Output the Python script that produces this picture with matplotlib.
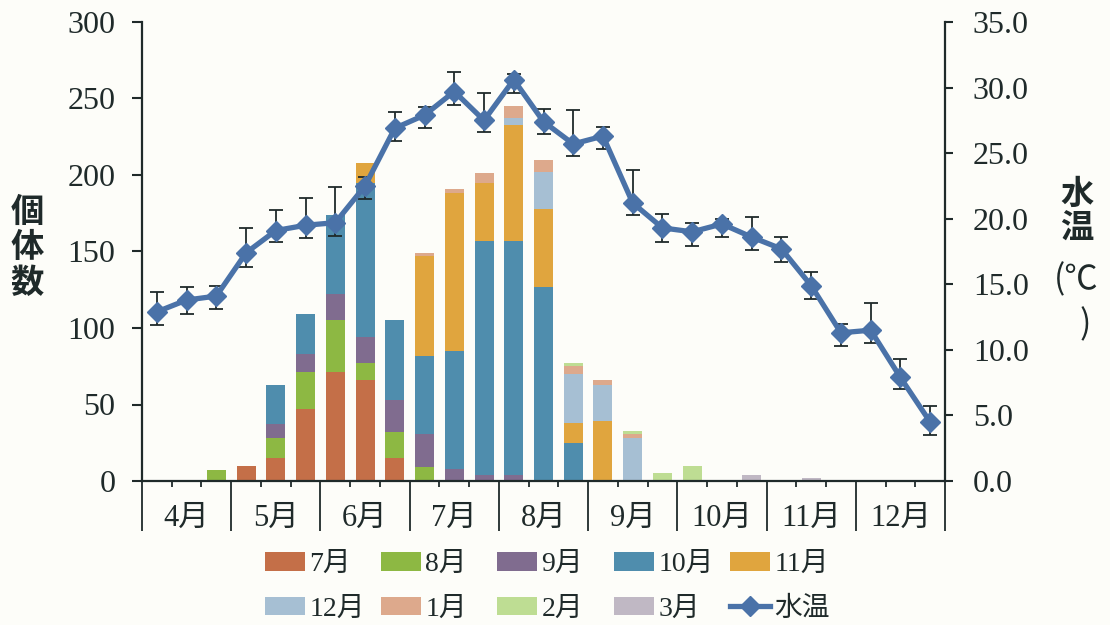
import matplotlib.pyplot as plt
import numpy as np
from matplotlib.patches import Patch
from matplotlib.lines import Line2D

plt.rcParams['font.family'] = ['Liberation Serif', 'Noto Sans CJK JP']

# sampling dates: early / mid / late of each month, Apr - Dec
months = ['4月', '5月', '6月', '7月', '8月', '9月', '10月', '11月', '12月']
n = 27

# counts by cohort (stacked bars, bottom to top)
cohorts = ['7月', '8月', '9月', '10月', '11月', '12月', '1月', '2月', '3月']
c_jul = [0, 0, 0, 10, 15, 47, 71, 66, 15, 0, 0, 0, 0, 0, 0, 0, 0, 0, 0, 0, 0, 0, 0, 0, 0, 0, 0]
c_aug = [0, 0, 7, 0, 13, 24, 34, 11, 17, 9, 0, 0, 0, 0, 0, 0, 0, 0, 0, 0, 0, 0, 0, 0, 0, 0, 0]
c_sep = [0, 0, 0, 0, 9, 12, 17, 17, 21, 22, 8, 4, 4, 0, 0, 0, 0, 0, 0, 0, 0, 0, 0, 0, 0, 0, 0]
c_oct = [0, 0, 0, 0, 26, 26, 52, 101, 52, 51, 77, 153, 153, 127, 25, 0, 0, 0, 0, 0, 0, 0, 0, 0, 0, 0, 0]
c_nov = [0, 0, 0, 0, 0, 0, 0, 13, 0, 65, 103, 38, 76, 51, 13, 39, 0, 0, 0, 0, 0, 0, 0, 0, 0, 0, 0]
c_dec = [0, 0, 0, 0, 0, 0, 0, 0, 0, 0, 0, 0, 4, 24, 32, 24, 28, 0, 0, 0, 0, 0, 0, 0, 0, 0, 0]
c_jan = [0, 0, 0, 0, 0, 0, 0, 0, 0, 2, 3, 6, 8, 8, 5, 3, 3, 0, 0, 0, 0, 0, 0, 0, 0, 0, 0]
c_feb = [0, 0, 0, 0, 0, 0, 0, 0, 0, 0, 0, 0, 0, 0, 2, 0, 2, 5, 10, 0, 0, 0, 0, 0, 0, 0, 0]
c_mar = [0, 0, 0, 0, 0, 0, 0, 0, 0, 0, 0, 0, 0, 0, 0, 0, 0, 0, 0, 0, 4, 0, 2, 0, 0, 0, 0]
counts = [c_jul, c_aug, c_sep, c_oct, c_nov, c_dec, c_jan, c_feb, c_mar]
colors = ['#C46F48', '#8DB843', '#806C8F', '#4F8DAD', '#E0A53E',
          '#A6BFD3', '#DDA98C', '#BEDD93', '#C0B8C4']

# water temperature and error bars
temp = [12.9, 13.8, 14.1, 17.4, 19.1, 19.5, 19.7, 22.5, 26.9, 27.9, 29.7, 27.5, 30.6, 27.4,
        25.7, 26.3, 21.2, 19.3, 19.0, 19.6, 18.6, 17.7, 14.9, 11.3, 11.5, 7.9, 4.5]
err_lo = [1.0, 1.1, 0.95, 1.1, 0.9, 1.0, 1.05, 1.0, 0.95, 0.95, 1.0, 0.9, 1.0, 0.95,
          0.9, 1.0, 0.9, 1.05, 1.05, 1.0, 1.0, 1.0, 1.0, 1.0, 1.0, 0.9, 1.0]
err_hi = [1.5, 1.0, 0.75, 1.9, 1.6, 2.1, 2.75, 0.7, 1.25, 0.65, 1.5, 2.1, 0.4, 0.95,
          2.6, 0.7, 2.5, 1.05, 0.65, 0.4, 1.5, 0.9, 1.0, 0.7, 2.1, 1.4, 1.25]

ink = '#1f2a2a'
fig = plt.figure(figsize=(11.1, 6.25), dpi=100, facecolor='#FDFDF9')
ax = fig.add_axes([142 / 1110, 1 - 481 / 625, 803 / 1110, 459 / 625])
ax.set_facecolor('none')

x = np.arange(n)
bottom = np.zeros(n)
for name, vals, col in zip(cohorts, counts, colors):
    ax.bar(x, vals, width=0.64, bottom=bottom, color=col, label=name, zorder=2)
    bottom += np.array(vals)

ax.set_xlim(-0.5, n - 0.5)
ax.set_ylim(0, 300)
ax.set_yticks(range(0, 301, 50))
for s in ['top', 'right']:
    ax.spines[s].set_visible(False)
for s in ['left', 'bottom']:
    ax.spines[s].set_color(ink)
    ax.spines[s].set_linewidth(1.6)
ax.tick_params(axis='y', length=7, width=1.5, pad=12, labelsize=23, colors=ink)

# month boundaries as long ticks, each sampling slot as short ticks
ax.set_xticks(np.arange(-0.5, n, 3))
ax.set_xticks(np.arange(-0.5, n, 1), minor=True)
ax.tick_params(axis='x', which='major', length=36, width=1.3, color=ink, labelbottom=False)
ax.tick_params(axis='x', which='minor', length=4, width=1.3, color=ink)
for i, m in enumerate(months):
    ax.text(3 * i + 1, -0.082, m, transform=ax.get_xaxis_transform(),
            ha='center', va='center', fontsize=22, color=ink)

ax2 = ax.twinx()
ax2.set_ylim(0, 35)
ax2.set_yticks(np.arange(0, 35.1, 5))
ax2.set_yticklabels([f'{v:.1f}' for v in np.arange(0, 35.1, 5)])
for s in ['top', 'left', 'bottom']:
    ax2.spines[s].set_visible(False)
ax2.spines['right'].set_color(ink)
ax2.spines['right'].set_linewidth(1.6)
ax2.tick_params(axis='y', length=6, width=1.5, pad=14, labelsize=23, colors=ink)

line_col = '#4A72A8'
ax2.errorbar(x, temp, yerr=[err_lo, err_hi], fmt='none', ecolor=ink,
             elinewidth=1.3, capsize=5, capthick=1.3, zorder=2)
ax2.plot(x, temp, color=line_col, lw=3.8, marker='D', ms=10, zorder=3)

# axis titles, written vertically
fig.text(27 / 1110, 1 - 248 / 625, '個\n体\n数', ha='center', va='center',
         fontsize=24, fontweight='bold', family='Noto Sans CJK JP', color=ink,
         linespacing=1.1)
fig.text(1077 / 1110, 1 - 212 / 625, '水\n温', ha='center', va='center',
         fontsize=24, fontweight='bold', family='Noto Sans CJK JP', color=ink,
         linespacing=1.05)
fig.text(1076 / 1110, 1 - 280 / 625, '(℃', ha='center', va='center',
         fontsize=24, family='Noto Sans CJK JP', color=ink)
fig.text(1085 / 1110, 1 - 325 / 625, ')', ha='center', va='center',
         fontsize=24, family='Noto Sans CJK JP', color=ink)

# legend: five evenly spaced columns, two rows each
patches = [Patch(facecolor=c, label=l) for l, c in zip(cohorts, colors)]
temp_handle = Line2D([], [], color=line_col, lw=3.8, marker='D', ms=10, label='水温')
items = patches + [temp_handle]
col_left = [265, 381, 497, 614, 730]
for j, xl in enumerate(col_left):
    pair = [items[j], items[j + 5]]
    fig.legend(pair, [h.get_label() for h in pair], loc='center left',
               bbox_to_anchor=(xl / 1110, 1 - 587 / 625), frameon=False,
               fontsize=20, handlelength=1.45, handleheight=0.65,
               handletextpad=0.15, labelspacing=0.7, borderpad=0,
               borderaxespad=0, labelcolor=ink)

fig.savefig('out.png', dpi=100, facecolor=fig.get_facecolor())
